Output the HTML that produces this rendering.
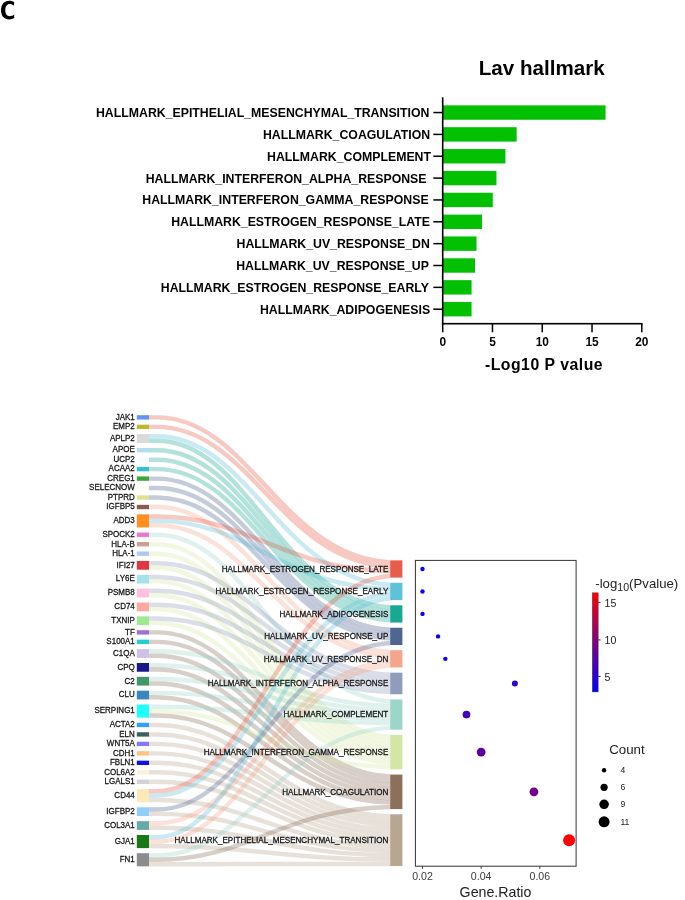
<!DOCTYPE html>
<html><head><meta charset="utf-8"><title>Figure C</title>
<style>html,body{margin:0;padding:0;background:#fff;}body{width:685px;height:900px;overflow:hidden;font-family:"Liberation Sans",sans-serif;}svg{display:block;will-change:transform;}</style>
</head><body>
<svg width="685" height="900" viewBox="0 0 685 900" font-family='"Liberation Sans", sans-serif'>
<path d="M14.2,2.2 C12.8,1.3 11.2,0.77 9.3,0.77 C4.2,0.77 1.05,4.5 1.05,10.2 C1.05,15.9 4.0,19.45 9.2,19.45 C11.2,19.45 12.9,18.9 14.2,18.1 L14.2,14.6 C12.9,15.6 11.5,16.2 9.7,16.2 C6.9,16.2 5.3,14.0 5.3,10.1 C5.3,6.3 7.0,3.95 9.7,3.95 C11.4,3.95 12.8,4.6 14.0,5.5 Z" fill="#000"/>
<text x="541.7" y="75" font-size="20.6" font-weight="bold" text-anchor="middle" fill="#000">Lav hallmark</text>
<rect x="442.70" y="105.35" width="162.86" height="14.4" fill="#03c003"/>
<rect x="433.3" y="111.80" width="9.4" height="1.5" fill="#000"/>
<text x="429.40" y="116.95" font-size="12.3" font-weight="bold" text-anchor="end" fill="#000">HALLMARK_EPITHELIAL_MESENCHYMAL_TRANSITION</text>
<rect x="442.70" y="127.20" width="73.97" height="14.4" fill="#03c003"/>
<rect x="433.3" y="133.65" width="9.4" height="1.5" fill="#000"/>
<text x="430.10" y="138.80" font-size="12.3" font-weight="bold" text-anchor="end" fill="#000">HALLMARK_COAGULATION</text>
<rect x="442.70" y="149.05" width="62.72" height="14.4" fill="#03c003"/>
<rect x="433.3" y="155.50" width="9.4" height="1.5" fill="#000"/>
<text x="431.00" y="160.65" font-size="12.3" font-weight="bold" text-anchor="end" fill="#000">HALLMARK_COMPLEMENT</text>
<rect x="442.70" y="170.90" width="53.76" height="14.4" fill="#03c003"/>
<rect x="433.3" y="177.35" width="9.4" height="1.5" fill="#000"/>
<text x="426.50" y="182.50" font-size="12.3" font-weight="bold" text-anchor="end" fill="#000">HALLMARK_INTERFERON_ALPHA_RESPONSE</text>
<rect x="442.70" y="192.75" width="50.07" height="14.4" fill="#03c003"/>
<rect x="433.3" y="199.20" width="9.4" height="1.5" fill="#000"/>
<text x="428.60" y="204.35" font-size="12.3" font-weight="bold" text-anchor="end" fill="#000">HALLMARK_INTERFERON_GAMMA_RESPONSE</text>
<rect x="442.70" y="214.60" width="39.32" height="14.4" fill="#03c003"/>
<rect x="433.3" y="221.05" width="9.4" height="1.5" fill="#000"/>
<text x="429.90" y="226.20" font-size="12.3" font-weight="bold" text-anchor="end" fill="#000">HALLMARK_ESTROGEN_RESPONSE_LATE</text>
<rect x="442.70" y="236.45" width="33.85" height="14.4" fill="#03c003"/>
<rect x="433.3" y="242.90" width="9.4" height="1.5" fill="#000"/>
<text x="429.90" y="248.05" font-size="12.3" font-weight="bold" text-anchor="end" fill="#000">HALLMARK_UV_RESPONSE_DN</text>
<rect x="442.70" y="258.30" width="32.35" height="14.4" fill="#03c003"/>
<rect x="433.3" y="264.75" width="9.4" height="1.5" fill="#000"/>
<text x="428.90" y="269.90" font-size="12.3" font-weight="bold" text-anchor="end" fill="#000">HALLMARK_UV_RESPONSE_UP</text>
<rect x="442.70" y="280.15" width="28.87" height="14.4" fill="#03c003"/>
<rect x="433.3" y="286.60" width="9.4" height="1.5" fill="#000"/>
<text x="428.90" y="291.75" font-size="12.3" font-weight="bold" text-anchor="end" fill="#000">HALLMARK_ESTROGEN_RESPONSE_EARLY</text>
<rect x="442.70" y="302.00" width="28.87" height="14.4" fill="#03c003"/>
<rect x="433.3" y="308.45" width="9.4" height="1.5" fill="#000"/>
<text x="430.10" y="313.60" font-size="12.3" font-weight="bold" text-anchor="end" fill="#000">HALLMARK_ADIPOGENESIS</text>
<rect x="441.9" y="97.3" width="1.6" height="227.20" fill="#000"/>
<rect x="441.9" y="322.90" width="200.70" height="1.6" fill="#000"/>
<rect x="441.95" y="323.70" width="1.5" height="8.6" fill="#000"/>
<text x="442.70" y="346.4" font-size="11.9" font-weight="bold" text-anchor="middle" fill="#000">0</text>
<rect x="491.72" y="323.70" width="1.5" height="8.6" fill="#000"/>
<text x="492.47" y="346.4" font-size="11.9" font-weight="bold" text-anchor="middle" fill="#000">5</text>
<rect x="541.50" y="323.70" width="1.5" height="8.6" fill="#000"/>
<text x="542.25" y="346.4" font-size="11.9" font-weight="bold" text-anchor="middle" fill="#000">10</text>
<rect x="591.27" y="323.70" width="1.5" height="8.6" fill="#000"/>
<text x="592.02" y="346.4" font-size="11.9" font-weight="bold" text-anchor="middle" fill="#000">15</text>
<rect x="641.05" y="323.70" width="1.5" height="8.6" fill="#000"/>
<text x="641.80" y="346.4" font-size="11.9" font-weight="bold" text-anchor="middle" fill="#000">20</text>
<text x="544" y="370.3" font-size="15.8" letter-spacing="0.5" font-weight="bold" text-anchor="middle" fill="#000">-Log10 P value</text>
<defs><clipPath id="lk"><rect x="149.0" y="400" width="241.20" height="480"/></clipPath></defs>
<g fill="none" stroke-width="4.45" stroke-opacity="0.3" clip-path="url(#lk)">
<path d="M148.00,417.39 L156.60,417.39 C251.80,417.39 282.10,562.53 397.10,562.53" stroke="#E64B35"/>
<path d="M148.00,426.86 L156.60,426.86 C251.80,426.86 282.10,566.84 397.10,566.84" stroke="#E64B35"/>
<path d="M148.00,436.33 L156.60,436.33 C251.80,436.33 282.10,584.99 397.10,584.99" stroke="#4DBBD5"/>
<path d="M148.00,440.71 L156.60,440.71 C251.80,440.71 282.10,607.45 397.10,607.45" stroke="#00A087"/>
<path d="M148.00,450.18 L156.60,450.18 C251.80,450.18 282.10,611.76 397.10,611.76" stroke="#00A087"/>
<path d="M148.00,459.66 L156.60,459.66 C251.80,459.66 282.10,616.08 397.10,616.08" stroke="#00A087"/>
<path d="M148.00,469.13 L156.60,469.13 C251.80,469.13 282.10,620.39 397.10,620.39" stroke="#00A087"/>
<path d="M148.00,478.60 L156.60,478.60 C251.80,478.60 282.10,629.91 397.10,629.91" stroke="#3C5488"/>
<path d="M148.00,488.08 L156.60,488.08 C251.80,488.08 282.10,634.22 397.10,634.22" stroke="#3C5488"/>
<path d="M148.00,497.55 L156.60,497.55 C251.80,497.55 282.10,638.54 397.10,638.54" stroke="#3C5488"/>
<path d="M148.00,507.03 L156.60,507.03 C251.80,507.03 282.10,652.37 397.10,652.37" stroke="#F39B7F"/>
<path d="M148.00,516.50 L156.60,516.50 C251.80,516.50 282.10,571.16 397.10,571.16" stroke="#E64B35"/>
<path d="M148.00,520.88 L156.60,520.88 C251.80,520.88 282.10,589.30 397.10,589.30" stroke="#4DBBD5"/>
<path d="M148.00,525.25 L156.60,525.25 C251.80,525.25 282.10,656.68 397.10,656.68" stroke="#F39B7F"/>
<path d="M148.00,534.72 L156.60,534.72 C251.80,534.72 282.10,701.60 397.10,701.60" stroke="#91D1C2"/>
<path d="M148.00,544.20 L156.60,544.20 C251.80,544.20 282.10,737.01 397.10,737.01" stroke="#CFE39C"/>
<path d="M148.00,553.67 L156.60,553.67 C251.80,553.67 282.10,741.32 397.10,741.32" stroke="#CFE39C"/>
<path d="M148.00,563.15 L156.60,563.15 C251.80,563.15 282.10,674.83 397.10,674.83" stroke="#8491B4"/>
<path d="M148.00,567.52 L156.60,567.52 C251.80,567.52 282.10,745.64 397.10,745.64" stroke="#CFE39C"/>
<path d="M148.00,576.99 L156.60,576.99 C251.80,576.99 282.10,679.14 397.10,679.14" stroke="#8491B4"/>
<path d="M148.00,581.37 L156.60,581.37 C251.80,581.37 282.10,749.95 397.10,749.95" stroke="#CFE39C"/>
<path d="M148.00,590.84 L156.60,590.84 C251.80,590.84 282.10,683.46 397.10,683.46" stroke="#8491B4"/>
<path d="M148.00,595.22 L156.60,595.22 C251.80,595.22 282.10,754.27 397.10,754.27" stroke="#CFE39C"/>
<path d="M148.00,604.69 L156.60,604.69 C251.80,604.69 282.10,687.77 397.10,687.77" stroke="#8491B4"/>
<path d="M148.00,609.06 L156.60,609.06 C251.80,609.06 282.10,758.58 397.10,758.58" stroke="#CFE39C"/>
<path d="M148.00,618.54 L156.60,618.54 C251.80,618.54 282.10,692.09 397.10,692.09" stroke="#8491B4"/>
<path d="M148.00,622.91 L156.60,622.91 C251.80,622.91 282.10,762.90 397.10,762.90" stroke="#CFE39C"/>
<path d="M148.00,632.38 L156.60,632.38 C251.80,632.38 282.10,776.73 397.10,776.73" stroke="#7E6148"/>
<path d="M148.00,641.86 L156.60,641.86 C251.80,641.86 282.10,781.04 397.10,781.04" stroke="#7E6148"/>
<path d="M148.00,651.33 L156.60,651.33 C251.80,651.33 282.10,705.92 397.10,705.92" stroke="#91D1C2"/>
<path d="M148.00,655.71 L156.60,655.71 C251.80,655.71 282.10,785.36 397.10,785.36" stroke="#7E6148"/>
<path d="M148.00,665.18 L156.60,665.18 C251.80,665.18 282.10,710.23 397.10,710.23" stroke="#91D1C2"/>
<path d="M148.00,669.55 L156.60,669.55 C251.80,669.55 282.10,789.67 397.10,789.67" stroke="#7E6148"/>
<path d="M148.00,679.03 L156.60,679.03 C251.80,679.03 282.10,714.55 397.10,714.55" stroke="#91D1C2"/>
<path d="M148.00,683.40 L156.60,683.40 C251.80,683.40 282.10,793.99 397.10,793.99" stroke="#7E6148"/>
<path d="M148.00,692.88 L156.60,692.88 C251.80,692.88 282.10,718.86 397.10,718.86" stroke="#91D1C2"/>
<path d="M148.00,697.25 L156.60,697.25 C251.80,697.25 282.10,798.30 397.10,798.30" stroke="#7E6148"/>
<path d="M148.00,706.72 L156.60,706.72 C251.80,706.72 282.10,723.18 397.10,723.18" stroke="#91D1C2"/>
<path d="M148.00,711.10 L156.60,711.10 C251.80,711.10 282.10,767.21 397.10,767.21" stroke="#CFE39C"/>
<path d="M148.00,715.47 L156.60,715.47 C251.80,715.47 282.10,802.62 397.10,802.62" stroke="#7E6148"/>
<path d="M148.00,724.95 L156.60,724.95 C251.80,724.95 282.10,816.45 397.10,816.45" stroke="#B09C85"/>
<path d="M148.00,734.42 L156.60,734.42 C251.80,734.42 282.10,820.76 397.10,820.76" stroke="#B09C85"/>
<path d="M148.00,743.89 L156.60,743.89 C251.80,743.89 282.10,825.08 397.10,825.08" stroke="#B09C85"/>
<path d="M148.00,753.37 L156.60,753.37 C251.80,753.37 282.10,829.39 397.10,829.39" stroke="#B09C85"/>
<path d="M148.00,762.84 L156.60,762.84 C251.80,762.84 282.10,833.71 397.10,833.71" stroke="#B09C85"/>
<path d="M148.00,772.32 L156.60,772.32 C251.80,772.32 282.10,838.02 397.10,838.02" stroke="#B09C85"/>
<path d="M148.00,781.79 L156.60,781.79 C251.80,781.79 282.10,842.34 397.10,842.34" stroke="#B09C85"/>
<path d="M148.00,791.27 L156.60,791.27 C251.80,791.27 282.10,575.47 397.10,575.47" stroke="#E64B35"/>
<path d="M148.00,795.64 L156.60,795.64 C251.80,795.64 282.10,593.62 397.10,593.62" stroke="#4DBBD5"/>
<path d="M148.00,800.01 L156.60,800.01 C251.80,800.01 282.10,846.65 397.10,846.65" stroke="#B09C85"/>
<path d="M148.00,809.49 L156.60,809.49 C251.80,809.49 282.10,642.85 397.10,642.85" stroke="#3C5488"/>
<path d="M148.00,813.86 L156.60,813.86 C251.80,813.86 282.10,850.97 397.10,850.97" stroke="#B09C85"/>
<path d="M148.00,823.34 L156.60,823.34 C251.80,823.34 282.10,661.00 397.10,661.00" stroke="#F39B7F"/>
<path d="M148.00,827.71 L156.60,827.71 C251.80,827.71 282.10,855.28 397.10,855.28" stroke="#B09C85"/>
<path d="M148.00,837.18 L156.60,837.18 C251.80,837.18 282.10,597.93 397.10,597.93" stroke="#4DBBD5"/>
<path d="M148.00,841.56 L156.60,841.56 C251.80,841.56 282.10,665.31 397.10,665.31" stroke="#F39B7F"/>
<path d="M148.00,845.93 L156.60,845.93 C251.80,845.93 282.10,859.60 397.10,859.60" stroke="#B09C85"/>
<path d="M148.00,855.40 L156.60,855.40 C251.80,855.40 282.10,727.49 397.10,727.49" stroke="#91D1C2"/>
<path d="M148.00,859.78 L156.60,859.78 C251.80,859.78 282.10,806.93 397.10,806.93" stroke="#7E6148"/>
<path d="M148.00,864.15 L156.60,864.15 C251.80,864.15 282.10,863.91 397.10,863.91" stroke="#B09C85"/>
</g>
<rect x="136.8" y="415.20" width="12.20" height="4.37" fill="#6495ED"/>
<text transform="translate(134.8,419.69) scale(0.92,1)" font-size="8.7" text-anchor="end" fill="#141414" stroke="#141414" stroke-width="0.28">JAK1</text>
<rect x="136.8" y="424.67" width="12.20" height="4.37" fill="#BDB82E"/>
<text transform="translate(134.8,429.16) scale(0.92,1)" font-size="8.7" text-anchor="end" fill="#141414" stroke="#141414" stroke-width="0.28">EMP2</text>
<rect x="136.8" y="434.15" width="12.20" height="8.75" fill="#D9D9D9"/>
<text transform="translate(134.8,440.82) scale(0.92,1)" font-size="8.7" text-anchor="end" fill="#141414" stroke="#141414" stroke-width="0.28">APLP2</text>
<rect x="136.8" y="448.00" width="12.20" height="4.37" fill="#B5DDF0"/>
<text transform="translate(134.8,452.48) scale(0.92,1)" font-size="8.7" text-anchor="end" fill="#141414" stroke="#141414" stroke-width="0.28">APOE</text>
<rect x="136.8" y="457.47" width="12.20" height="4.37" fill="#F5FCFF"/>
<text transform="translate(134.8,461.96) scale(0.92,1)" font-size="8.7" text-anchor="end" fill="#141414" stroke="#141414" stroke-width="0.28">UCP2</text>
<rect x="136.8" y="466.94" width="12.20" height="4.37" fill="#30C0D8"/>
<text transform="translate(134.8,471.43) scale(0.92,1)" font-size="8.7" text-anchor="end" fill="#141414" stroke="#141414" stroke-width="0.28">ACAA2</text>
<rect x="136.8" y="476.42" width="12.20" height="4.37" fill="#3CA83C"/>
<text transform="translate(134.8,480.90) scale(0.92,1)" font-size="8.7" text-anchor="end" fill="#141414" stroke="#141414" stroke-width="0.28">CREG1</text>
<rect x="136.8" y="485.89" width="12.20" height="4.37" fill="#FFFFF5"/>
<text transform="translate(134.8,490.38) scale(0.92,1)" font-size="8.7" text-anchor="end" fill="#141414" stroke="#141414" stroke-width="0.28">SELECNOW</text>
<rect x="136.8" y="495.37" width="12.20" height="4.37" fill="#E0E090"/>
<text transform="translate(134.8,499.85) scale(0.92,1)" font-size="8.7" text-anchor="end" fill="#141414" stroke="#141414" stroke-width="0.28">PTPRD</text>
<rect x="136.8" y="504.84" width="12.20" height="4.37" fill="#8B5A50"/>
<text transform="translate(134.8,509.33) scale(0.92,1)" font-size="8.7" text-anchor="end" fill="#141414" stroke="#141414" stroke-width="0.28">IGFBP5</text>
<rect x="136.8" y="514.31" width="12.20" height="13.12" fill="#FF9020"/>
<text transform="translate(134.8,523.17) scale(0.92,1)" font-size="8.7" text-anchor="end" fill="#141414" stroke="#141414" stroke-width="0.28">ADD3</text>
<rect x="136.8" y="532.54" width="12.20" height="4.37" fill="#E878D0"/>
<text transform="translate(134.8,537.02) scale(0.92,1)" font-size="8.7" text-anchor="end" fill="#141414" stroke="#141414" stroke-width="0.28">SPOCK2</text>
<rect x="136.8" y="542.01" width="12.20" height="4.37" fill="#C8A098"/>
<text transform="translate(134.8,546.50) scale(0.92,1)" font-size="8.7" text-anchor="end" fill="#141414" stroke="#141414" stroke-width="0.28">HLA-B</text>
<rect x="136.8" y="551.48" width="12.20" height="4.37" fill="#B0C8F0"/>
<text transform="translate(134.8,555.97) scale(0.92,1)" font-size="8.7" text-anchor="end" fill="#141414" stroke="#141414" stroke-width="0.28">HLA-1</text>
<rect x="136.8" y="560.96" width="12.20" height="8.75" fill="#E03840"/>
<text transform="translate(134.8,567.63) scale(0.92,1)" font-size="8.7" text-anchor="end" fill="#141414" stroke="#141414" stroke-width="0.28">IFI27</text>
<rect x="136.8" y="574.81" width="12.20" height="8.75" fill="#A8E0EC"/>
<text transform="translate(134.8,581.48) scale(0.92,1)" font-size="8.7" text-anchor="end" fill="#141414" stroke="#141414" stroke-width="0.28">LY6E</text>
<rect x="136.8" y="588.65" width="12.20" height="8.75" fill="#FFC0E0"/>
<text transform="translate(134.8,595.33) scale(0.92,1)" font-size="8.7" text-anchor="end" fill="#141414" stroke="#141414" stroke-width="0.28">PSMB8</text>
<rect x="136.8" y="602.50" width="12.20" height="8.75" fill="#FFA8A0"/>
<text transform="translate(134.8,609.18) scale(0.92,1)" font-size="8.7" text-anchor="end" fill="#141414" stroke="#141414" stroke-width="0.28">CD74</text>
<rect x="136.8" y="616.35" width="12.20" height="8.75" fill="#A0E890"/>
<text transform="translate(134.8,623.02) scale(0.92,1)" font-size="8.7" text-anchor="end" fill="#141414" stroke="#141414" stroke-width="0.28">TXNIP</text>
<rect x="136.8" y="630.20" width="12.20" height="4.37" fill="#A070D0"/>
<text transform="translate(134.8,634.68) scale(0.92,1)" font-size="8.7" text-anchor="end" fill="#141414" stroke="#141414" stroke-width="0.28">TF</text>
<rect x="136.8" y="639.67" width="12.20" height="4.37" fill="#20D0D0"/>
<text transform="translate(134.8,644.16) scale(0.92,1)" font-size="8.7" text-anchor="end" fill="#141414" stroke="#141414" stroke-width="0.28">S100A1</text>
<rect x="136.8" y="649.15" width="12.20" height="8.75" fill="#D0C0E8"/>
<text transform="translate(134.8,655.82) scale(0.92,1)" font-size="8.7" text-anchor="end" fill="#141414" stroke="#141414" stroke-width="0.28">C1QA</text>
<rect x="136.8" y="662.99" width="12.20" height="8.75" fill="#18188C"/>
<text transform="translate(134.8,669.67) scale(0.92,1)" font-size="8.7" text-anchor="end" fill="#141414" stroke="#141414" stroke-width="0.28">CPQ</text>
<rect x="136.8" y="676.84" width="12.20" height="8.75" fill="#409868"/>
<text transform="translate(134.8,683.52) scale(0.92,1)" font-size="8.7" text-anchor="end" fill="#141414" stroke="#141414" stroke-width="0.28">C2</text>
<rect x="136.8" y="690.69" width="12.20" height="8.75" fill="#3888C0"/>
<text transform="translate(134.8,697.36) scale(0.92,1)" font-size="8.7" text-anchor="end" fill="#141414" stroke="#141414" stroke-width="0.28">CLU</text>
<rect x="136.8" y="704.54" width="12.20" height="13.12" fill="#20FFFF"/>
<text transform="translate(134.8,713.40) scale(0.92,1)" font-size="8.7" text-anchor="end" fill="#141414" stroke="#141414" stroke-width="0.28">SERPING1</text>
<rect x="136.8" y="722.76" width="12.20" height="4.37" fill="#30A0FF"/>
<text transform="translate(134.8,727.25) scale(0.92,1)" font-size="8.7" text-anchor="end" fill="#141414" stroke="#141414" stroke-width="0.28">ACTA2</text>
<rect x="136.8" y="732.23" width="12.20" height="4.37" fill="#3C6060"/>
<text transform="translate(134.8,736.72) scale(0.92,1)" font-size="8.7" text-anchor="end" fill="#141414" stroke="#141414" stroke-width="0.28">ELN</text>
<rect x="136.8" y="741.71" width="12.20" height="4.37" fill="#8878F8"/>
<text transform="translate(134.8,746.19) scale(0.92,1)" font-size="8.7" text-anchor="end" fill="#141414" stroke="#141414" stroke-width="0.28">WNT5A</text>
<rect x="136.8" y="751.18" width="12.20" height="4.37" fill="#FFC080"/>
<text transform="translate(134.8,755.67) scale(0.92,1)" font-size="8.7" text-anchor="end" fill="#141414" stroke="#141414" stroke-width="0.28">CDH1</text>
<rect x="136.8" y="760.66" width="12.20" height="4.37" fill="#1010E0"/>
<text transform="translate(134.8,765.14) scale(0.92,1)" font-size="8.7" text-anchor="end" fill="#141414" stroke="#141414" stroke-width="0.28">FBLN1</text>
<rect x="136.8" y="770.13" width="12.20" height="4.37" fill="#FFF0D8"/>
<text transform="translate(134.8,774.62) scale(0.92,1)" font-size="8.7" text-anchor="end" fill="#141414" stroke="#141414" stroke-width="0.28">COL6A2</text>
<rect x="136.8" y="779.60" width="12.20" height="4.37" fill="#D3D3D3"/>
<text transform="translate(134.8,784.09) scale(0.92,1)" font-size="8.7" text-anchor="end" fill="#141414" stroke="#141414" stroke-width="0.28">LGALS1</text>
<rect x="136.8" y="789.08" width="12.20" height="13.12" fill="#FFE8B8"/>
<text transform="translate(134.8,797.94) scale(0.92,1)" font-size="8.7" text-anchor="end" fill="#141414" stroke="#141414" stroke-width="0.28">CD44</text>
<rect x="136.8" y="807.30" width="12.20" height="8.75" fill="#90D0F8"/>
<text transform="translate(134.8,813.97) scale(0.92,1)" font-size="8.7" text-anchor="end" fill="#141414" stroke="#141414" stroke-width="0.28">IGFBP2</text>
<rect x="136.8" y="821.15" width="12.20" height="8.75" fill="#68A8A8"/>
<text transform="translate(134.8,827.82) scale(0.92,1)" font-size="8.7" text-anchor="end" fill="#141414" stroke="#141414" stroke-width="0.28">COL3A1</text>
<rect x="136.8" y="835.00" width="12.20" height="13.12" fill="#187818"/>
<text transform="translate(134.8,843.86) scale(0.92,1)" font-size="8.7" text-anchor="end" fill="#141414" stroke="#141414" stroke-width="0.28">GJA1</text>
<rect x="136.8" y="853.22" width="12.20" height="13.12" fill="#8C8C8C"/>
<text transform="translate(134.8,862.08) scale(0.92,1)" font-size="8.7" text-anchor="end" fill="#141414" stroke="#141414" stroke-width="0.28">FN1</text>
<rect x="390.2" y="560.37" width="12.20" height="17.26" fill="#E64B35" fill-opacity="0.9"/>
<text transform="translate(388.3,571.90) scale(0.917,1)" font-size="8.8" text-anchor="end" fill="#141414" stroke="#141414" stroke-width="0.28">HALLMARK_ESTROGEN_RESPONSE_LATE</text>
<rect x="390.2" y="582.83" width="12.20" height="17.26" fill="#4DBBD5" fill-opacity="0.9"/>
<text transform="translate(388.3,594.36) scale(0.917,1)" font-size="8.8" text-anchor="end" fill="#141414" stroke="#141414" stroke-width="0.28">HALLMARK_ESTROGEN_RESPONSE_EARLY</text>
<rect x="390.2" y="605.29" width="12.20" height="17.26" fill="#00A087" fill-opacity="0.9"/>
<text transform="translate(388.3,616.82) scale(0.917,1)" font-size="8.8" text-anchor="end" fill="#141414" stroke="#141414" stroke-width="0.28">HALLMARK_ADIPOGENESIS</text>
<rect x="390.2" y="627.75" width="12.20" height="17.26" fill="#3C5488" fill-opacity="0.9"/>
<text transform="translate(388.3,639.28) scale(0.917,1)" font-size="8.8" text-anchor="end" fill="#141414" stroke="#141414" stroke-width="0.28">HALLMARK_UV_RESPONSE_UP</text>
<rect x="390.2" y="650.21" width="12.20" height="17.26" fill="#F39B7F" fill-opacity="0.9"/>
<text transform="translate(388.3,661.74) scale(0.917,1)" font-size="8.8" text-anchor="end" fill="#141414" stroke="#141414" stroke-width="0.28">HALLMARK_UV_RESPONSE_DN</text>
<rect x="390.2" y="672.67" width="12.20" height="21.58" fill="#8491B4" fill-opacity="0.9"/>
<text transform="translate(388.3,686.36) scale(0.917,1)" font-size="8.8" text-anchor="end" fill="#141414" stroke="#141414" stroke-width="0.28">HALLMARK_INTERFERON_ALPHA_RESPONSE</text>
<rect x="390.2" y="699.45" width="12.20" height="30.21" fill="#91D1C2" fill-opacity="0.9"/>
<text transform="translate(388.3,717.45) scale(0.917,1)" font-size="8.8" text-anchor="end" fill="#141414" stroke="#141414" stroke-width="0.28">HALLMARK_COMPLEMENT</text>
<rect x="390.2" y="734.85" width="12.20" height="34.52" fill="#CFE39C" fill-opacity="0.9"/>
<text transform="translate(388.3,755.01) scale(0.917,1)" font-size="8.8" text-anchor="end" fill="#141414" stroke="#141414" stroke-width="0.28">HALLMARK_INTERFERON_GAMMA_RESPONSE</text>
<rect x="390.2" y="774.57" width="12.20" height="34.52" fill="#7E6148" fill-opacity="0.9"/>
<text transform="translate(388.3,794.73) scale(0.917,1)" font-size="8.8" text-anchor="end" fill="#141414" stroke="#141414" stroke-width="0.28">HALLMARK_COAGULATION</text>
<rect x="390.2" y="814.29" width="12.20" height="51.78" fill="#B09C85" fill-opacity="0.9"/>
<text transform="translate(388.3,843.08) scale(0.917,1)" font-size="8.8" text-anchor="end" fill="#141414" stroke="#141414" stroke-width="0.28">HALLMARK_EPITHELIAL_MESENCHYMAL_TRANSITION</text>
<rect x="415.4" y="560.4" width="160.70" height="305.80" fill="none" stroke="#333" stroke-width="1"/>
<circle cx="422.50" cy="569.00" r="2.2" fill="#0a00f5"/>
<circle cx="422.50" cy="591.46" r="2.2" fill="#0a00f5"/>
<circle cx="422.50" cy="613.92" r="2.2" fill="#0a00f5"/>
<circle cx="438.04" cy="636.38" r="2.2" fill="#1000ef"/>
<circle cx="445.37" cy="658.84" r="2.2" fill="#1200ed"/>
<circle cx="514.87" cy="683.46" r="3.0" fill="#2f00d0"/>
<circle cx="466.49" cy="714.55" r="3.85" fill="#4100be"/>
<circle cx="481.15" cy="752.11" r="4.4" fill="#5c00a3"/>
<circle cx="533.93" cy="791.83" r="4.4" fill="#70008f"/>
<circle cx="569.12" cy="840.18" r="6.0" fill="#ff0000"/>
<rect x="422.00" y="866.2" width="1" height="2.6" fill="#333"/>
<text x="422.50" y="880" font-size="10.6" text-anchor="middle" fill="#3c3c3c">0.02</text>
<rect x="480.65" y="866.2" width="1" height="2.6" fill="#333"/>
<text x="481.15" y="880" font-size="10.6" text-anchor="middle" fill="#3c3c3c">0.04</text>
<rect x="539.30" y="866.2" width="1" height="2.6" fill="#333"/>
<text x="539.80" y="880" font-size="10.6" text-anchor="middle" fill="#3c3c3c">0.06</text>
<text x="495.5" y="896.6" font-size="14.2" text-anchor="middle" fill="#222">Gene.Ratio</text>
<defs><linearGradient id="cb" x1="0" y1="0" x2="0" y2="1"><stop offset="0" stop-color="#ff0000"/><stop offset="1" stop-color="#0000ff"/></linearGradient></defs>
<text x="595.3" y="587.6" font-size="13.2" fill="#222">-log<tspan font-size="10.6" dy="3.2">10</tspan><tspan dy="-3.2">(Pvalue)</tspan></text>
<rect x="592.3" y="592.8" width="5.9" height="99.1" fill="url(#cb)" stroke="#333" stroke-opacity="0.7" stroke-width="0.6"/>
<rect x="598.2" y="601.9" width="2.4" height="1" fill="#333"/>
<text x="604.5" y="606.6999999999999" font-size="10.6" fill="#222">15</text>
<rect x="598.2" y="639.4" width="2.4" height="1" fill="#333"/>
<text x="604.5" y="644.1999999999999" font-size="10.6" fill="#222">10</text>
<rect x="598.2" y="676.0" width="2.4" height="1" fill="#333"/>
<text x="604.5" y="680.8" font-size="10.6" fill="#222">5</text>
<text x="609.2" y="754.1" font-size="13.3" fill="#222">Count</text>
<circle cx="604.1" cy="770.3" r="2.2" fill="#000"/>
<text x="620.4" y="773.0999999999999" font-size="8.6" fill="#222">4</text>
<circle cx="604.1" cy="787.3" r="3.6" fill="#000"/>
<text x="620.4" y="790.0999999999999" font-size="8.6" fill="#222">6</text>
<circle cx="604.1" cy="804.3" r="4.75" fill="#000"/>
<text x="620.4" y="807.0999999999999" font-size="8.6" fill="#222">9</text>
<circle cx="604.1" cy="821.8" r="5.5" fill="#000"/>
<text x="620.4" y="824.5999999999999" font-size="8.6" fill="#222">11</text>
</svg>
</body></html>
